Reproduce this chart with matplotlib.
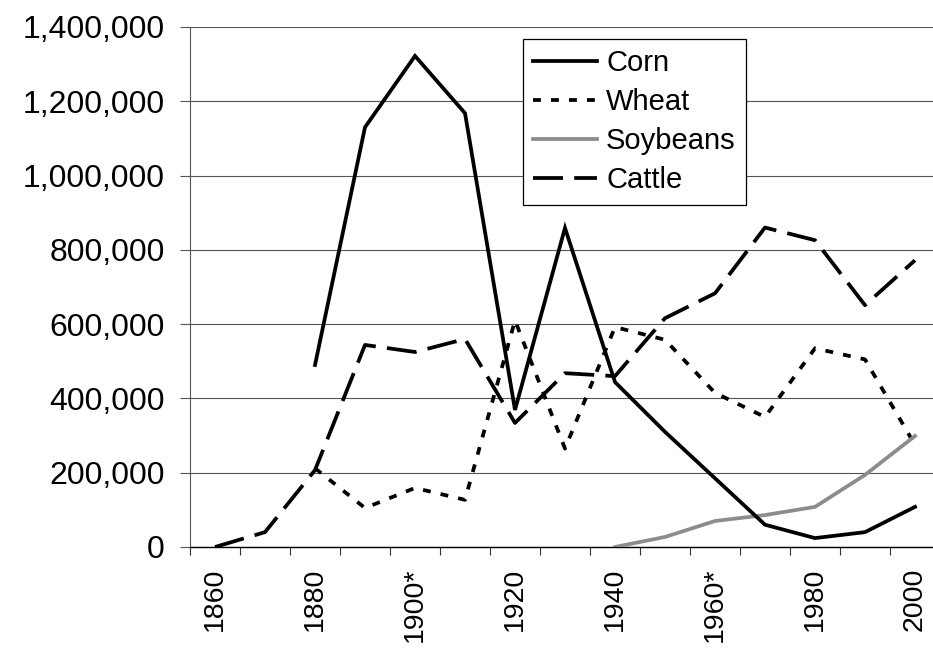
import numpy as np
import matplotlib
matplotlib.use("Agg")
import matplotlib.pyplot as plt
from matplotlib.ticker import FuncFormatter, FixedLocator

plt.rcParams['font.family'] = ['Liberation Sans', 'DejaVu Sans']

nan = np.nan

# Census decades (one category per decade)
years = [1860, 1870, 1880, 1890, 1900, 1910, 1920, 1930, 1940,
         1950, 1960, 1970, 1980, 1990, 2000]
year_labels = ['1860', '', '1880', '', '1900*', '', '1920', '', '1940',
               '', '1960*', '', '1980', '', '2000']

corn = [nan, nan, 490000, 1130000, 1322000, 1168000, 369000, 859000,
        444000, 310000, 185000, 60000, 24000, 40000, 108000]
wheat = [nan, nan, 212000, 105000, 159000, 127000, 610000, 265000,
         592000, 558000, 415000, 350000, 535000, 505000, 275000]
soybeans = [nan, nan, nan, nan, nan, nan, nan, nan,
            0, 27000, 70000, 86000, 108000, 194000, 299000]
cattle = [0, 40000, 207000, 544000, 525000, 560000, 334000, 468000,
          460000, 616000, 683000, 860000, 826000, 651000, 772000]

W, H = 933, 650
fig = plt.figure(figsize=(W / 100, H / 100), dpi=100)
fig.patch.set_facecolor('white')

left_px, right_px, top_px, bottom_px = 190, 933, 27, 547
ax = fig.add_axes([left_px / W, (H - bottom_px) / H,
                   (right_px - left_px) / W, (bottom_px - top_px) / H])

x = np.arange(len(years))
lw = 2.7
ax.plot(x, corn, color='black', lw=lw, solid_joinstyle='miter', label='Corn', zorder=4)
ax.plot(x, wheat, color='black', lw=lw, dashes=(2.1, 2.7), dash_capstyle='butt',
        label='Wheat', zorder=3)
ax.plot(x, soybeans, color='#8c8c8c', lw=lw, label='Soybeans', zorder=3)
ax.plot(x, cattle, color='black', lw=lw, dashes=(8, 3), dash_capstyle='butt',
        label='Cattle', zorder=3)

slot = 50.0  # pixels per category
ax.set_xlim(-0.5, -0.5 + (right_px - left_px) / slot)
ax.set_ylim(0, 1400000)

# Y axis
ax.set_yticks(np.arange(0, 1400001, 200000))
ax.yaxis.set_major_formatter(FuncFormatter(lambda v, p: f'{v:,.0f}'))
ax.tick_params(axis='y', direction='out', length=7.2, width=0.8, color='#555555',
               pad=10.8, labelsize=23, labelcolor='black')
ax.grid(axis='y', color='#555555', lw=0.8)
ax.set_axisbelow(True)

# X axis: tick marks between categories, labels at category centres
ax.xaxis.set_major_locator(FixedLocator(np.arange(-0.5, len(years), 1.0)))
ax.xaxis.set_major_formatter(FuncFormatter(lambda v, p: ''))
ax.xaxis.set_minor_locator(FixedLocator(x))
ax.set_xticklabels(year_labels, minor=True, rotation=90, fontsize=20.5, va='top')
ax.tick_params(axis='x', which='major', direction='out', length=5.8, width=0.8,
               color='#333333')
ax.tick_params(axis='x', which='minor', length=0, pad=15)

for s in ('top', 'right'):
    ax.spines[s].set_visible(False)
ax.spines['left'].set_color('#555555')
ax.spines['left'].set_linewidth(0.8)
ax.spines['bottom'].set_color('black')
ax.spines['bottom'].set_linewidth(1.0)

leg = fig.legend(loc='upper left', bbox_to_anchor=(523 / W, 1 - 39 / H),
                 fontsize=21, frameon=True, fancybox=False, shadow=False,
                 handlelength=2.2, handletextpad=0.3, labelspacing=0.38,
                 borderpad=0.35, borderaxespad=0)
leg.get_frame().set_edgecolor('black')
leg.get_frame().set_linewidth(0.9)
leg.get_frame().set_facecolor('white')
leg.get_frame().set_alpha(1)

fig.savefig('out.png', dpi=100, facecolor='white')
